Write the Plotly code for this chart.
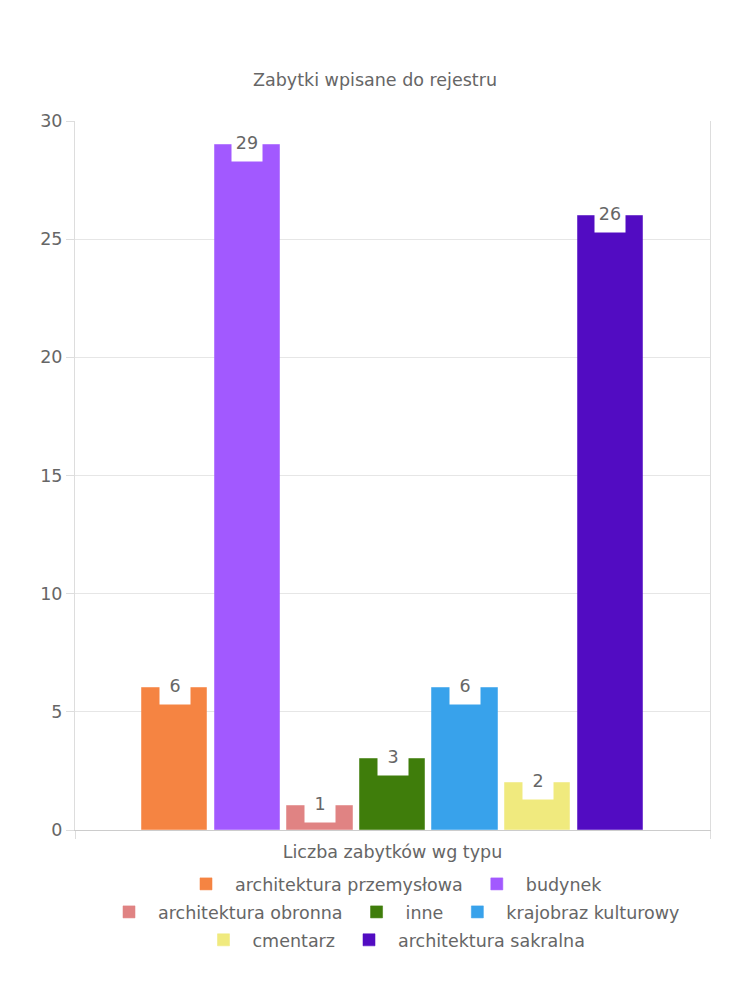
import plotly.graph_objects as go

title = "Zabytki wpisane do rejestru"
category = "Liczba zabytków wg typu"
series = ["architektura przemysłowa", "budynek", "architektura obronna", "inne",
          "krajobraz kulturowy", "cmentarz", "architektura sakralna"]
values = [6, 29, 1, 3, 6, 2, 26]
colors = ["#f58442", "#a259ff", "#e08383", "#3f7d0b", "#38a2eb", "#f0ea7e", "#520cc2"]
legend_rows = ["legend", "legend", "legend2", "legend2", "legend2", "legend3", "legend3"]
y_ticks = [0, 5, 10, 15, 20, 25, 30]

FONT = "DejaVu Sans"
FS = 17.5
GREY = "#666666"


def lighter(hex_color, a=0.55):
    h = hex_color.lstrip("#")
    r, g, b = (int(h[k:k + 2], 16) for k in (0, 2, 4))
    return f"rgba({r},{g},{b},{a})"


fig = go.Figure()
for i, (name, v, c, lg) in enumerate(zip(series, values, colors, legend_rows)):
    fig.add_trace(go.Bar(
        x=[i], y=[v], name=name, width=0.9, legend=lg,
        marker=dict(color=c, line=dict(color=lighter(c), width=1)),
        hoverinfo="name+y",
    ))
    fig.add_annotation(
        x=i, y=v, xref="x", yref="y", text=str(v), showarrow=False,
        yanchor="middle", yshift=-2, bgcolor="white", borderpad=0,
        width=30, height=28, valign="top",
        font=dict(family=FONT, size=FS, color=GREY),
    )

n = len(series)
center = (n - 1) / 2
half = n * 1.25 / 2
lo, hi = center - half, center + half

legend_common = dict(orientation="h", x=0.5, xanchor="center", yanchor="middle",
                     font=dict(family=FONT, size=FS, color=GREY), itemwidth=48,
                     traceorder="normal", bgcolor="rgba(0,0,0,0)")

fig.update_layout(
    width=750, height=1000,
    margin=dict(l=75, r=40, t=121, b=170),
    paper_bgcolor="white", plot_bgcolor="white",
    title=dict(text=title, x=0.5, xanchor="center", y=0.92, yanchor="middle",
               font=dict(family=FONT, size=FS, color=GREY)),
    font=dict(family=FONT, size=FS, color=GREY),
    showlegend=True,
    legend=dict(y=-0.0762, **legend_common),
    legend2=dict(y=-0.1157, **legend_common),
    legend3=dict(y=-0.1551, **legend_common),
    bargap=0,
)
fig.update_xaxes(
    range=[lo, hi],
    tickvals=[lo, hi], ticktext=["", ""], ticks="outside", ticklen=8,
    tickcolor="#dddddd",
    title=dict(text=category, standoff=4, font=dict(family=FONT, size=FS, color=GREY)),
    showgrid=False, zeroline=False,
    showline=True, linecolor="#cccccc", linewidth=1,
    fixedrange=True,
)
fig.update_yaxes(
    range=[0, 30], tickvals=y_ticks,
    showgrid=True, gridcolor="#e6e6e6", gridwidth=1,
    zeroline=False, showline=True, mirror=True, linecolor="#dddddd",
    ticks="outside", ticklen=8, tickcolor="#dddddd",
    tickfont=dict(family=FONT, size=FS, color=GREY),
    fixedrange=True,
)

fig.write_html("out.html")
